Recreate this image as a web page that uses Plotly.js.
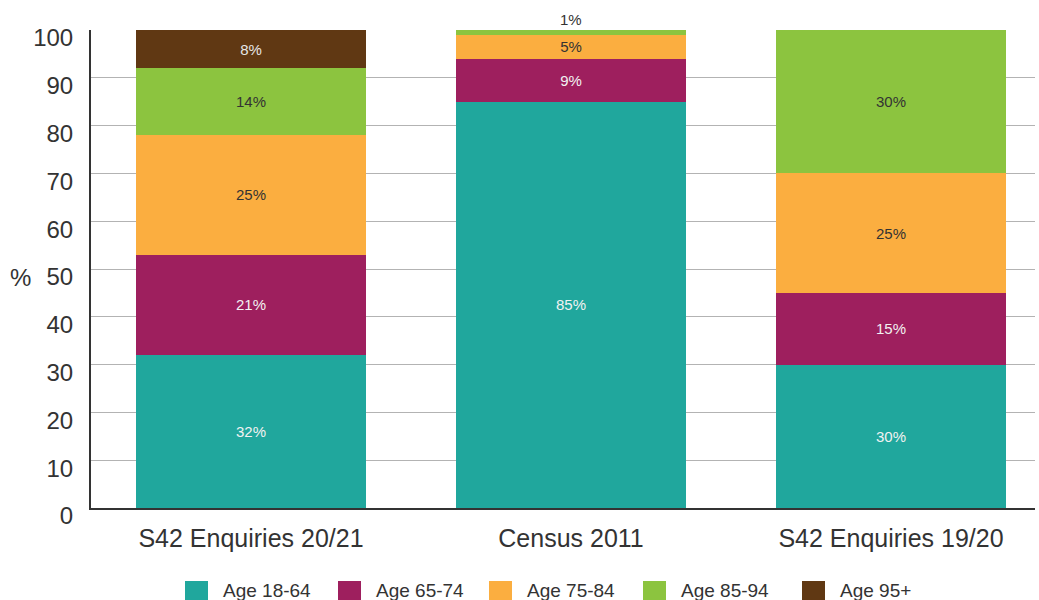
<!DOCTYPE html>
<html>
<head>
<meta charset="utf-8">
<script src="https://cdn.plot.ly/plotly-3.0.1.min.js"></script>
<style>html,body{margin:0;padding:0;background:#fff;}</style>
</head>
<body>
<div id="chart" style="width:1039px;height:600px;"></div>
<script>
const categories = ["S42 Enquiries 20/21", "Census 2011", "S42 Enquiries 19/20"];
const seriesNames = ["Age 18-64", "Age 65-74", "Age 75-84", "Age 85-94", "Age 95+"];
const age18_64 = [32, 85, 30];
const age65_74 = [21, 9, 15];
const age75_84 = [25, 5, 25];
const age85_94 = [14, 1, 30];
const age95plus = [8, 0, 0];
const yTicks = [0, 10, 20, 30, 40, 50, 60, 70, 80, 90, 100];
const yTitle = "%";

const seriesValues = [age18_64, age65_74, age75_84, age85_94, age95plus];
const colors = ["#20A79D", "#9E1F5E", "#FBAE40", "#8CC43F", "#603813"];
const textColors = ["#f2f2f2", "#f2f2f2", "#333333", "#333333", "#e6e6e6"];
const font = "Liberation Sans, Arial, sans-serif";

// layout geometry (pixels)
const W = 1039, H = 600;
const M = {l: 91, r: 4, t: 30, b: 92};
const plotW = W - M.l - M.r, plotH = H - M.t - M.b;
const px2paperX = px => (px - M.l) / plotW;
const px2paperY = py => (H - M.b - py) / plotH;
const legendSquareLeft = [185, 338, 489, 643, 802];
const legendSquareSize = 23;
const legendSquareTop = 581;
const legendTextY = 590;

const traces = seriesValues.map((vals, i) => ({
  type: "bar",
  name: seriesNames[i],
  x: categories,
  y: vals,
  marker: {color: colors[i], line: {width: 0}},
  text: vals.map(v => (v >= 3 ? v + "%" : "")),
  textposition: "inside",
  insidetextanchor: "middle",
  textangle: 0,
  textfont: {family: font, size: 15, color: textColors[i]},
  constraintext: "none",
  showlegend: false,
  hoverinfo: "skip"
}));

const annotations = [];
const shapes = [];
// labels for segments too thin to hold text, placed just above the stack
categories.forEach((c, j) => {
  let cum = 0;
  seriesValues.forEach((vals, i) => {
    cum += vals[j];
    if (vals[j] > 0 && vals[j] < 3) {
      annotations.push({
        x: c, y: cum, xref: "x", yref: "y",
        text: vals[j] + "%", showarrow: false,
        yanchor: "bottom", yshift: 0,
        font: {family: font, size: 15, color: "#333333"}
      });
    }
  });
});
// horizontal y-axis title
annotations.push({
  x: px2paperX(20), xref: "paper", xanchor: "center",
  y: 50, yref: "y", yanchor: "middle", yshift: -8,
  text: yTitle, showarrow: false,
  font: {family: font, size: 24, color: "#333333"}
});
// legend drawn with large squares
seriesNames.forEach((name, i) => {
  const x0 = legendSquareLeft[i];
  shapes.push({
    type: "rect", xref: "paper", yref: "paper",
    x0: px2paperX(x0), x1: px2paperX(x0 + legendSquareSize),
    y0: px2paperY(legendSquareTop + legendSquareSize), y1: px2paperY(legendSquareTop),
    fillcolor: colors[i], line: {width: 0}, layer: "above"
  });
  annotations.push({
    x: px2paperX(x0 + legendSquareSize + 13), xref: "paper", xanchor: "left",
    y: px2paperY(legendTextY), yref: "paper", yanchor: "middle",
    text: name, showarrow: false,
    font: {family: font, size: 19, color: "#333333"}
  });
});

const layout = {
  width: W, height: H,
  margin: {l: M.l, r: M.r, t: M.t, b: M.b, autoexpand: false},
  paper_bgcolor: "#ffffff",
  plot_bgcolor: "#ffffff",
  barmode: "stack",
  bargap: 0.28,
  font: {family: font, color: "#333333"},
  xaxis: {
    range: [-0.5, 2.45],
    showline: true, linecolor: "#333333", linewidth: 2,
    showgrid: false, ticks: "",
    tickangle: 0,
    ticklabelstandoff: 7,
    tickfont: {family: font, size: 25, color: "#333333"},
    automargin: false
  },
  yaxis: {
    range: [0, 100],
    tickvals: yTicks,
    ticktext: yTicks.map(String),
    showline: true, linecolor: "#333333", linewidth: 2,
    showgrid: true, gridcolor: "#b3b3b3", gridwidth: 1,
    zeroline: false, ticks: "",
    ticklabelstandoff: 11,
    ticklabelshift: 8,
    tickfont: {family: font, size: 24, color: "#333333"},
    automargin: false
  },
  showlegend: false,
  shapes: shapes,
  annotations: annotations
};

Plotly.newPlot("chart", traces, layout, {displayModeBar: false, staticPlot: true});
</script>
</body>
</html>
